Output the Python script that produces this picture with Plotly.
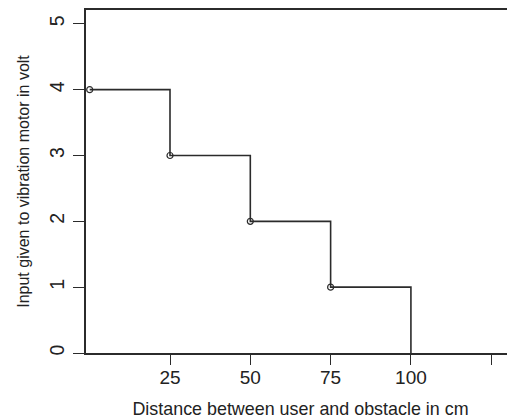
import plotly.graph_objects as go

# data
distance = [0, 25, 50, 75, 100]
voltage = [4, 3, 2, 1, 0]
point_distance = [0, 25, 50, 75]
point_voltage = [4, 3, 2, 1]
x_tickvals = [25, 50, 75, 100, 125]
x_ticktext = ["25", "50", "75", "100", ""]
y_tickvals = [0, 1, 2, 3, 4, 5]

line_color = "#2b2b2b"
font = "Liberation Sans, Arial, sans-serif"

fig = go.Figure()
fig.add_trace(go.Scatter(
    x=distance, y=voltage, mode="lines", line_shape="hv",
    line=dict(color=line_color, width=1.6), hoverinfo="skip", showlegend=False))
fig.add_trace(go.Scatter(
    x=point_distance, y=point_voltage, mode="markers",
    marker=dict(symbol="circle-open", size=6, color=line_color, line=dict(width=1.2)),
    showlegend=False))

# page body has an 8px margin, so the figure is sized/offset to compensate
fig.update_layout(
    width=507, height=411,
    margin=dict(l=78, r=0, t=2, b=66),
    paper_bgcolor="white", plot_bgcolor="white",
    font=dict(family=font, size=16, color="#222222"),
    xaxis=dict(
        range=[-1.15, 132.4], tickvals=x_tickvals, ticktext=x_ticktext,
        showline=True, linecolor=line_color, linewidth=1.6, mirror=True,
        ticks="outside", ticklen=10, tickwidth=1.4, tickcolor=line_color,
        showgrid=False, zeroline=False, automargin=False,
        tickfont=dict(size=19), ticklabelstandoff=-4,
        title=dict(text="Distance between user and obstacle in cm", font=dict(size=17.9), standoff=17),
    ),
    yaxis=dict(
        range=[0, 5.21], tickvals=y_tickvals, tickangle=-90,
        showline=True, linecolor=line_color, linewidth=1.6, mirror=False,
        ticks="outside", ticklen=11, tickwidth=1.4, tickcolor=line_color,
        showgrid=False, zeroline=False, automargin=False,
        tickfont=dict(size=19.5), ticklabelstandoff=1,
        title=dict(text="Input given to vibration motor in volt", font=dict(size=16), standoff=13),
    ),
)

fig.write_html("out.html")
